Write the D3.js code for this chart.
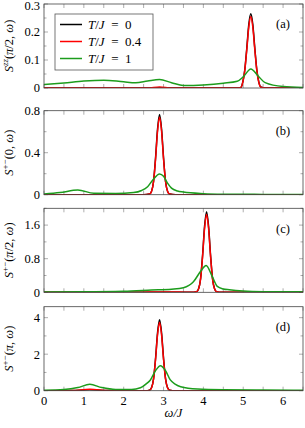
<!DOCTYPE html>
<html>
<head>
<meta charset="utf-8">
<script src="https://d3js.org/d3.v7.min.js"></script>
<style>
  body { margin: 0; background: #fff; }
  text { font-family: "Liberation Serif", "DejaVu Serif", serif; fill: #000; }
</style>
</head>
<body>
<svg id="chart" width="305" height="428"></svg>
<script>
// series values: [omega/J, S]
const szzBlack = [[0,0],[4.85,0],[4.94,0.002],[4.99,0.022],[5.04,0.066],[5.09,0.143],[5.14,0.227],[5.19,0.265],[5.24,0.227],[5.29,0.143],[5.34,0.066],[5.39,0.022],[5.44,0.004],[5.55,0],[6.5,0]];
const szzRed = [[0,0],[2.6,0],[2.9,0.004],[3.2,0],[4.85,0],[4.94,0.002],[4.99,0.021],[5.04,0.064],[5.09,0.138],[5.14,0.218],[5.19,0.255],[5.24,0.218],[5.29,0.138],[5.34,0.064],[5.39,0.021],[5.44,0.003],[5.55,0],[6.5,0]];
const szzGreen = [[0,0.012],[0.5,0.018],[1,0.025],[1.5,0.028],[2,0.022],[2.3,0.019],[2.6,0.025],[2.9,0.030],[3.2,0.019],[3.5,0.009],[4,0.011],[4.5,0.017],[4.85,0.024],[5.0,0.04],[5.19,0.068],[5.38,0.042],[5.55,0.019],[6,0.005],[6.5,0.002]];

const s0Black = [[0,0],[2.5,0],[2.65,0.006],[2.7,0.034],[2.75,0.13],[2.8,0.352],[2.85,0.627],[2.9,0.765],[2.95,0.627],[3.0,0.352],[3.05,0.13],[3.1,0.034],[3.15,0.006],[3.3,0],[6.5,0]];
const s0Red = [[0,0],[2.5,0],[2.65,0.006],[2.7,0.033],[2.75,0.126],[2.8,0.34],[2.85,0.607],[2.9,0.74],[2.95,0.607],[3.0,0.34],[3.05,0.126],[3.1,0.033],[3.15,0.006],[3.3,0],[6.5,0]];
const s0Green = [[0,0.007],[0.4,0.02],[0.85,0.045],[1.25,0.013],[1.8,0.012],[2.25,0.02],[2.45,0.04],[2.6,0.076],[2.75,0.15],[2.9,0.197],[3.0,0.175],[3.1,0.11],[3.2,0.063],[3.35,0.035],[3.5,0.025],[4,0.01],[4.5,0.005],[5.5,0.003],[6.5,0.002]];

const sHalfBlack = [[0,0],[3.7,0],[3.83,0.015],[3.88,0.084],[3.93,0.326],[3.98,0.883],[4.03,1.574],[4.08,1.92],[4.13,1.574],[4.18,0.883],[4.23,0.326],[4.28,0.084],[4.33,0.015],[4.45,0],[6.5,0]];
const sHalfRed = [[0,0],[2.4,0],[2.9,0.01],[3.4,0.005],[3.7,0],[3.83,0.014],[3.88,0.082],[3.93,0.316],[3.98,0.856],[4.03,1.525],[4.08,1.86],[4.13,1.525],[4.18,0.856],[4.23,0.316],[4.28,0.082],[4.33,0.014],[4.45,0],[6.5,0]];
const sHalfGreen = [[0,0.01],[1,0.012],[2,0.025],[2.7,0.054],[3.2,0.075],[3.5,0.11],[3.75,0.25],[3.93,0.5],[4.07,0.64],[4.22,0.38],[4.35,0.14],[4.5,0.08],[4.65,0.06],[5.0,0.03],[5.5,0.015],[6.5,0.01]];

const sPiBlack = [[0,0],[0.7,0.005],[1.15,0.05],[1.6,0.005],[2.0,0],[2.55,0],[2.65,0.03],[2.7,0.17],[2.75,0.66],[2.8,1.78],[2.85,3.18],[2.9,3.88],[2.95,3.18],[3.0,1.78],[3.05,0.66],[3.1,0.17],[3.15,0.03],[3.3,0],[6.5,0]];
const sPiRed = [[0,0],[0.7,0.01],[1.15,0.08],[1.6,0.01],[2.0,0],[2.55,0],[2.65,0.03],[2.7,0.165],[2.75,0.64],[2.8,1.72],[2.85,3.07],[2.9,3.75],[2.95,3.07],[3.0,1.72],[3.05,0.64],[3.1,0.165],[3.15,0.03],[3.3,0],[6.5,0]];
const sPiGreen = [[0,0.02],[0.5,0.06],[0.85,0.17],[1.15,0.35],[1.45,0.17],[1.8,0.07],[2.2,0.07],[2.42,0.16],[2.58,0.4],[2.67,0.59],[2.8,1.1],[2.92,1.37],[3.05,1.1],[3.17,0.59],[3.3,0.35],[3.43,0.22],[3.85,0.09],[4.5,0.05],[5.5,0.035],[6.5,0.03]];

const legendLabels = ["0", "0.4", "1"];
const colors = ["#000000", "#ff0000", "#1c9c1c"];

const panels = [
  { tag: "(a)", ymax: 0.3, major: [0, 0.1, 0.2, 0.3], minor: [0.05, 0.15, 0.25], fmt: d => d === 0 ? "0" : d3.format(".1f")(d),
    q: "π/2, ω", sup: "zz", series: [szzBlack, szzRed, szzGreen], top: 4 },
  { tag: "(b)", ymax: 0.8, major: [0, 0.4, 0.8], minor: [0.2, 0.6], fmt: d => d === 0 ? "0" : d3.format(".1f")(d),
    q: "0, ω", sup: "+−", series: [s0Black, s0Red, s0Green], top: 110.7 },
  { tag: "(c)", ymax: 2.0, major: [0, 0.8, 1.6], minor: [0.4, 1.2, 2.0], fmt: d => d === 0 ? "0" : d3.format(".1f")(d),
    q: "π/2, ω", sup: "+−", series: [sHalfBlack, sHalfRed, sHalfGreen], top: 208.3 },
  { tag: "(d)", ymax: 4.6, major: [0, 2, 4], minor: [1, 3], fmt: d => String(d),
    q: "π, ω", sup: "+−", series: [sPiBlack, sPiRed, sPiGreen], top: 306.7 }
];

const svg = d3.select("#chart");
const left = 44, right = 303, ph = 84;
const x = d3.scaleLinear().domain([0, 6.5]).range([left, right]);
const xTicks = d3.range(0, 6.51, 0.5);
const fs = 12.5;

panels.forEach((p, i) => {
  const y = d3.scaleLinear().domain([0, p.ymax]).range([p.top + ph, p.top]);
  const g = svg.append("g");
  const clipId = "clip" + i;
  svg.append("clipPath").attr("id", clipId).append("rect")
    .attr("x", left).attr("y", p.top).attr("width", right - left).attr("height", ph);

  // ticks inside the box
  xTicks.forEach(t => {
    g.append("line").attr("x1", x(t)).attr("x2", x(t)).attr("y1", p.top + ph).attr("y2", p.top + ph - 4)
      .attr("stroke", "#777").attr("stroke-width", 0.6);
    g.append("line").attr("x1", x(t)).attr("x2", x(t)).attr("y1", p.top).attr("y2", p.top + 4)
      .attr("stroke", "#777").attr("stroke-width", 0.6);
  });
  p.major.concat(p.minor).forEach(t => {
    const len = p.major.includes(t) ? 4 : 2.5;
    g.append("line").attr("x1", left).attr("x2", left + len).attr("y1", y(t)).attr("y2", y(t))
      .attr("stroke", "#777").attr("stroke-width", 0.6);
    g.append("line").attr("x1", right).attr("x2", right - len).attr("y1", y(t)).attr("y2", y(t))
      .attr("stroke", "#777").attr("stroke-width", 0.6);
  });

  const line = d3.line().x(d => x(d[0])).y(d => y(d[1])).curve(d3.curveMonotoneX);
  p.series.forEach((s, k) => {
    g.append("path").datum(s).attr("clip-path", `url(#${clipId})`)
      .attr("d", line).attr("fill", "none").attr("stroke", colors[k])
      .attr("stroke-width", 1.5).attr("stroke-linejoin", "round");
  });

  g.append("rect").attr("x", left).attr("y", p.top).attr("width", right - left).attr("height", ph)
    .attr("fill", "none").attr("stroke", "#444").attr("stroke-width", 0.8);

  p.major.forEach(t => {
    g.append("text").attr("x", left - 4).attr("y", Math.max(y(t), 6)).attr("dy", "0.35em")
      .attr("text-anchor", "end").attr("font-size", fs).text(p.fmt(t));
  });

  g.append("text").attr("x", right - 20).attr("y", p.top + 20).attr("dy", "0.35em")
    .attr("text-anchor", "middle").attr("font-size", fs).text(p.tag);

  const cy = p.top + ph / 2;
  const lab = g.append("text").attr("transform", `translate(13,${cy}) rotate(-90)`)
    .attr("text-anchor", "middle").attr("font-size", fs);
  lab.append("tspan").attr("font-style", "italic").text("S");
  lab.append("tspan").attr("font-style", p.sup === "zz" ? "italic" : "normal")
    .attr("font-size", 9).attr("dy", -5).text(p.sup);
  const parts = p.q.split(/([πω])/);
  parts.forEach((s, j) => {
    const ts = lab.append("tspan").text((j === 0 ? "(" : "") + s);
    if (j === 0) ts.attr("dy", 5);
    if (s === "π" || s === "ω") ts.attr("font-style", "italic");
  });
  lab.append("tspan").text(")");

  if (i === panels.length - 1) {
    xTicks.filter(Number.isInteger).forEach(t => {
      g.append("text").attr("x", x(t)).attr("y", p.top + ph + 14).attr("text-anchor", "middle")
        .attr("font-size", fs).text(t);
    });
  }
});

// x axis title
svg.append("text").attr("x", (left + right) / 2).attr("y", 417).attr("text-anchor", "middle")
  .attr("font-size", fs).attr("font-style", "italic").text("ω/J");

// legend
const lg = svg.append("g");
lg.append("rect").attr("x", 55).attr("y", 14).attr("width", 98).attr("height", 56)
  .attr("fill", "#fff").attr("stroke", "#555").attr("stroke-width", 0.8);
legendLabels.forEach((l, k) => {
  const ly = 24.5 + k * 17;
  lg.append("line").attr("x1", 60).attr("x2", 82).attr("y1", ly).attr("y2", ly)
    .attr("stroke", colors[k]).attr("stroke-width", 1.5);
  const t = lg.append("text").attr("x", 88).attr("y", ly).attr("dy", "0.35em").attr("font-size", 13);
  t.append("tspan").attr("font-style", "italic").text("T");
  t.append("tspan").text("/");
  t.append("tspan").attr("font-style", "italic").text("J");
  t.append("tspan").text("\u2002=\u2002" + l);
});
</script>
</body>
</html>
